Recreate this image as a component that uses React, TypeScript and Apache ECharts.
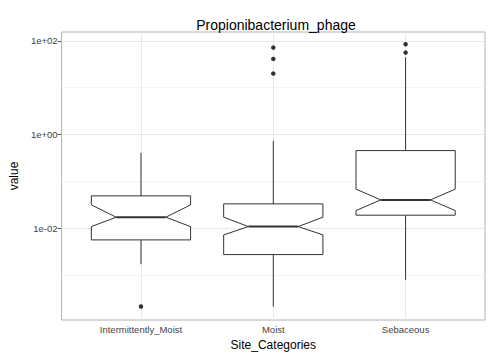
import React, { useEffect, useRef } from "react";
import * as echarts from "echarts";

const categories = ["Intermittently_Moist", "Moist", "Sebaceous"];
const whiskerLow = [0.00172, 0.000215, 0.000798];
const q1 = [0.00568, 0.00276, 0.0191];
const notchLow = [0.0109, 0.00727, 0.024];
const median = [0.0173, 0.0109, 0.0405];
const notchHigh = [0.0317, 0.0173, 0.0686];
const q3 = [0.0493, 0.0333, 0.456];
const whiskerHigh = [0.407, 0.734, 44.7];
const outliers: [number, number][] = [
  [0, 0.000215],
  [1, 71.6],
  [1, 41.1],
  [1, 20.0],
  [2, 84.6],
  [2, 56.0],
];
const yTickValues = [0.01, 1, 100];
const yTickLabels = ["1e-02", "1e+00", "1e+02"];
const majorGrid = [-2, 0, 2];
const minorGrid = [-3, -1, 1];

const L = (v: number) => Math.log10(v);

export default function App() {
  const ref = useRef<HTMLDivElement>(null);
  useEffect(() => {
    if (!ref.current) return;
    const chart = echarts.init(ref.current, undefined, { renderer: "svg" });
    const boxData = categories.map((_, i) => [
      i + 1,
      L(whiskerLow[i]),
      L(q1[i]),
      L(notchLow[i]),
      L(median[i]),
      L(notchHigh[i]),
      L(q3[i]),
      L(whiskerHigh[i]),
    ]);
    const stroke = "#333333";
    chart.setOption({
      animation: false,
      backgroundColor: "#ffffff",
      title: {
        text: "Propionibacterium_phage",
        left: 271,
        top: 13,
        textAlign: "center",
        textStyle: { fontFamily: "Liberation Sans", fontSize: 14, fontWeight: "normal", color: "#000" },
      },
      grid: {
        left: 57,
        right: 15,
        top: 32,
        bottom: 37,
        show: true,
        backgroundColor: "#fff",
        borderColor: "#b0b0b0",
        borderWidth: 1,
      },
      xAxis: {
        type: "value",
        min: 0.4,
        max: 3.6,
        name: "Site_Categories",
        nameLocation: "middle",
        nameGap: 19,
        nameTextStyle: { fontFamily: "Liberation Sans", fontSize: 12, color: "#000" },
        axisLine: { show: false },
        splitLine: { show: false },
        axisTick: { show: true, length: 4, customValues: [1, 2, 3], lineStyle: { color: "#555" } },
        axisLabel: {
          customValues: [1, 2, 3],
          formatter: (v: number) => categories[Math.round(v) - 1] ?? "",
          fontFamily: "Liberation Sans",
          fontSize: 9.5,
          color: "#444",
          margin: 4,
        },
      },
      yAxis: {
        type: "value",
        min: -3.954,
        max: 2.188,
        name: "value",
        nameLocation: "middle",
        nameGap: 38,
        nameRotate: 90,
        nameTextStyle: { fontFamily: "Liberation Sans", fontSize: 12, color: "#000" },
        axisLine: { show: false },
        splitLine: { show: false },
        axisTick: { show: true, length: 4, customValues: yTickValues.map(L), lineStyle: { color: "#555" } },
        axisLabel: {
          customValues: yTickValues.map(L),
          formatter: (v: number) => {
            const idx = yTickValues.findIndex((t) => Math.abs(L(t) - v) < 1e-6);
            return idx >= 0 ? yTickLabels[idx] : "";
          },
          fontFamily: "Liberation Sans",
          fontSize: 9.5,
          color: "#444",
          margin: 4,
        },
      },
      series: [
        {
          type: "scatter",
          data: [[1, 0]],
          symbolSize: 0,
          silent: true,
          z: 1,
          itemStyle: { opacity: 0 },
          markLine: {
            silent: true,
            z: 1,
            symbol: "none",
            label: { show: false },
            emphasis: { disabled: true },
            data: [
              ...minorGrid.map((v) => ({ yAxis: v, lineStyle: { color: "#f4f4f4", width: 1, type: "solid" } })),
              ...majorGrid.map((v) => ({ yAxis: v, lineStyle: { color: "#e8e8e8", width: 1, type: "solid" } })),
              ...[1, 2, 3].map((v) => ({ xAxis: v, lineStyle: { color: "#e8e8e8", width: 1, type: "solid" } })),
            ],
          },
        },
        {
          type: "custom",
          z: 3,
          data: boxData,
          encode: { x: 0, y: [1, 2, 3, 4, 5, 6, 7] },
          renderItem: (params: any, api: any) => {
            const x = api.value(0);
            const y = (d: number) => api.coord([x, api.value(d)])[1];
            const cx = api.coord([x, api.value(4)])[0];
            const hw = api.size([0.75, 0])[0] / 2;
            const nw = hw / 2;
            const yWl = y(1), yQ1 = y(2), yNl = y(3), yMed = y(4), yNh = y(5), yQ3 = y(6), yWh = y(7);
            const ls = { stroke, lineWidth: 1, fill: null };
            return {
              type: "group",
              children: [
                { type: "line", shape: { x1: cx, y1: yQ3, x2: cx, y2: yWh }, style: ls },
                { type: "line", shape: { x1: cx, y1: yQ1, x2: cx, y2: yWl }, style: ls },
                {
                  type: "polygon",
                  shape: {
                    points: [
                      [cx - hw, yQ3],
                      [cx + hw, yQ3],
                      [cx + hw, yNh],
                      [cx + nw, yMed],
                      [cx + hw, yNl],
                      [cx + hw, yQ1],
                      [cx - hw, yQ1],
                      [cx - hw, yNl],
                      [cx - nw, yMed],
                      [cx - hw, yNh],
                    ],
                  },
                  style: { stroke, lineWidth: 1, fill: "#ffffff" },
                },
                { type: "line", shape: { x1: cx - nw, y1: yMed, x2: cx + nw, y2: yMed }, style: { stroke, lineWidth: 2 } },
              ],
            };
          },
        },
        {
          type: "scatter",
          z: 4,
          symbol: "circle",
          symbolSize: 4.5,
          itemStyle: { color: "#000" },
          data: outliers.map(([c, v]) => [c + 1, L(v)]),
        },
      ],
    });
    return () => chart.dispose();
  }, []);
  return <div ref={ref} style={{ width: 500, height: 357, position: "absolute", left: 0, top: 0 }} />;
}
